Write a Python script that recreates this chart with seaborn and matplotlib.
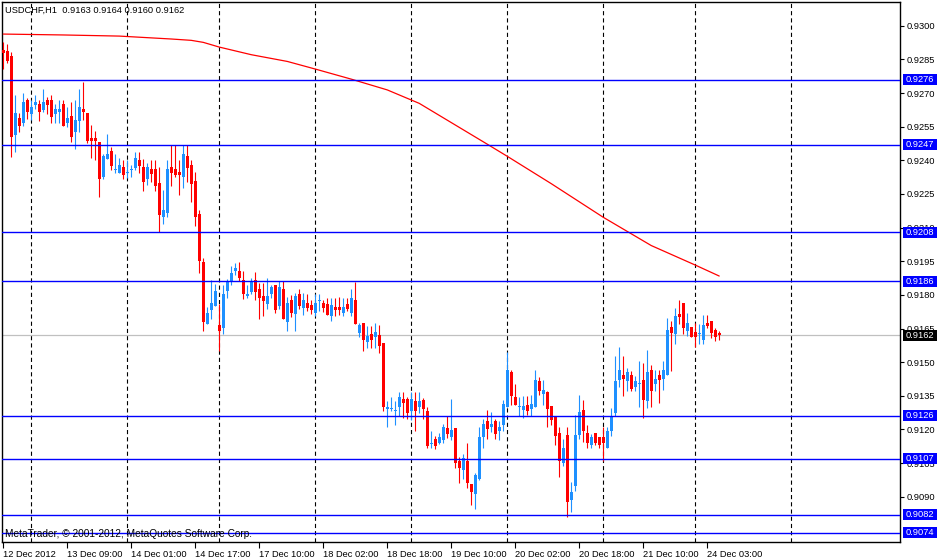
import numpy as np
import matplotlib
matplotlib.use("Agg")
import matplotlib.pyplot as plt
import matplotlib.transforms as mtransforms
from matplotlib.patches import Rectangle
import seaborn as sns

# ---------------- data ----------------
symbol_title = "USDCHF,H1  0.9163 0.9164 0.9160 0.9162"
watermark = "MetaTrader, \u00a9 2001-2012, MetaQuotes Software Corp."

opens = [
    0.92890, 0.92888, 0.92863, 0.92513, 0.92590, 0.92568, 0.92669, 0.92607, 0.92647, 0.92652,
    0.92625, 0.92669, 0.92669, 0.92607, 0.92616, 0.92652, 0.92568, 0.92598, 0.92528, 0.92574,
    0.92629, 0.92611, 0.92501, 0.92501, 0.92482, 0.92327, 0.92407, 0.92443, 0.92357, 0.92345,
    0.92371, 0.92344, 0.92356, 0.92366, 0.92401, 0.92371, 0.92317, 0.92360, 0.92360, 0.92299,
    0.92147, 0.92165, 0.92371, 0.92360, 0.92348, 0.92326, 0.92419, 0.92378, 0.92307, 0.92159,
    0.91948, 0.91672, 0.91733, 0.91751, 0.91666, 0.91654, 0.91818, 0.91863, 0.91905, 0.91908,
    0.91868, 0.91793, 0.91815, 0.91867, 0.91828, 0.91795, 0.91758, 0.91803, 0.91845, 0.91750,
    0.91825, 0.91679, 0.91777, 0.91713, 0.91806, 0.91743, 0.91764, 0.91755, 0.91721, 0.91774,
    0.91765, 0.91758, 0.91706, 0.91746, 0.91746, 0.91721, 0.91758, 0.91721, 0.91777, 0.91631,
    0.91673, 0.91590, 0.91626, 0.91613, 0.91623, 0.91586, 0.91291, 0.91290, 0.91282, 0.91298,
    0.91335, 0.91335, 0.91283, 0.91328, 0.91300, 0.91332, 0.91283, 0.91135, 0.91156, 0.91138,
    0.91153, 0.91205, 0.91168, 0.91205, 0.91059, 0.91019, 0.91061, 0.90955, 0.90910, 0.90981,
    0.91168, 0.91236, 0.91209, 0.91236, 0.91191, 0.91221, 0.91300, 0.91455, 0.91343, 0.91300,
    0.91288, 0.91310, 0.91292, 0.91300, 0.91415, 0.91360, 0.91367, 0.91303, 0.91254, 0.91183,
    0.91049, 0.91173, 0.90885, 0.90949, 0.91176, 0.91285, 0.91182, 0.91131, 0.91182, 0.91164,
    0.91164, 0.91119, 0.91195, 0.91273, 0.91422, 0.91444, 0.91418, 0.91444, 0.91388, 0.91402,
    0.91422, 0.91325, 0.91464, 0.91403, 0.91444, 0.91426, 0.91444, 0.91656, 0.91624, 0.91716,
    0.91762, 0.91638, 0.91658, 0.91636, 0.91626, 0.91598, 0.91676, 0.91683, 0.91643, 0.91630,
]
highs = [
    0.92926, 0.92920, 0.92881, 0.92692, 0.92610, 0.92702, 0.92678, 0.92669, 0.92692, 0.92669,
    0.92719, 0.92684, 0.92692, 0.92650, 0.92669, 0.92669, 0.92637, 0.92662, 0.92669, 0.92719,
    0.92751, 0.92611, 0.92558, 0.92531, 0.92482, 0.92428, 0.92517, 0.92461, 0.92428, 0.92412,
    0.92401, 0.92401, 0.92378, 0.92438, 0.92438, 0.92408, 0.92386, 0.92401, 0.92401, 0.92371,
    0.92266, 0.92401, 0.92469, 0.92469, 0.92401, 0.92469, 0.92469, 0.92401, 0.92348, 0.92177,
    0.91965, 0.91744, 0.91865, 0.91848, 0.91759, 0.91845, 0.91871, 0.91930, 0.91942, 0.91948,
    0.91907, 0.91845, 0.91874, 0.91900, 0.91852, 0.91855, 0.91877, 0.91845, 0.91845, 0.91860,
    0.91862, 0.91790, 0.91800, 0.91807, 0.91825, 0.91807, 0.91803, 0.91776, 0.91803, 0.91803,
    0.91777, 0.91785, 0.91788, 0.91785, 0.91790, 0.91788, 0.91788, 0.91825, 0.91858, 0.91676,
    0.91673, 0.91660, 0.91661, 0.91676, 0.91665, 0.91586, 0.91325, 0.91343, 0.91328, 0.91367,
    0.91367, 0.91344, 0.91365, 0.91365, 0.91365, 0.91340, 0.91302, 0.91195, 0.91171, 0.91183,
    0.91223, 0.91262, 0.91335, 0.91205, 0.91079, 0.91089, 0.91141, 0.90955, 0.91004, 0.91213,
    0.91248, 0.91285, 0.91276, 0.91248, 0.91236, 0.91333, 0.91546, 0.91463, 0.91404, 0.91343,
    0.91348, 0.91348, 0.91355, 0.91463, 0.91433, 0.91422, 0.91373, 0.91303, 0.91258, 0.91213,
    0.91158, 0.91213, 0.90964, 0.91263, 0.91352, 0.91333, 0.91221, 0.91179, 0.91182, 0.91164,
    0.91209, 0.91213, 0.91295, 0.91526, 0.91567, 0.91526, 0.91474, 0.91462, 0.91437, 0.91504,
    0.91497, 0.91552, 0.91486, 0.91467, 0.91467, 0.91507, 0.91695, 0.91683, 0.91740, 0.91776,
    0.91762, 0.91721, 0.91658, 0.91676, 0.91668, 0.91709, 0.91710, 0.91683, 0.91653, 0.91640,
]
lows = [
    0.92806, 0.92836, 0.92416, 0.92438, 0.92528, 0.92553, 0.92584, 0.92580, 0.92628, 0.92577,
    0.92616, 0.92607, 0.92568, 0.92568, 0.92565, 0.92553, 0.92547, 0.92483, 0.92449, 0.92528,
    0.92580, 0.92476, 0.92409, 0.92401, 0.92237, 0.92318, 0.92407, 0.92357, 0.92342, 0.92342,
    0.92318, 0.92319, 0.92326, 0.92356, 0.92344, 0.92262, 0.92292, 0.92302, 0.92262, 0.92080,
    0.92114, 0.92147, 0.92286, 0.92326, 0.92244, 0.92277, 0.92304, 0.92214, 0.92107, 0.91896,
    0.91639, 0.91669, 0.91694, 0.91751, 0.91550, 0.91624, 0.91786, 0.91845, 0.91890, 0.91863,
    0.91780, 0.91784, 0.91803, 0.91777, 0.91694, 0.91706, 0.91736, 0.91788, 0.91721, 0.91736,
    0.91694, 0.91638, 0.91703, 0.91638, 0.91736, 0.91710, 0.91728, 0.91713, 0.91706, 0.91728,
    0.91725, 0.91710, 0.91683, 0.91706, 0.91710, 0.91706, 0.91728, 0.91706, 0.91671, 0.91612,
    0.91550, 0.91565, 0.91564, 0.91564, 0.91541, 0.91283, 0.91210, 0.91280, 0.91220, 0.91258,
    0.91253, 0.91247, 0.91243, 0.91194, 0.91273, 0.91247, 0.91116, 0.91116, 0.91111, 0.91135,
    0.91138, 0.91161, 0.91153, 0.91030, 0.90959, 0.90981, 0.90940, 0.90862, 0.90847, 0.90974,
    0.91119, 0.91158, 0.91188, 0.91158, 0.91151, 0.91194, 0.91300, 0.91310, 0.91307, 0.91258,
    0.91251, 0.91263, 0.91258, 0.91300, 0.91355, 0.91310, 0.91213, 0.91221, 0.91131, 0.90990,
    0.91038, 0.90810, 0.90830, 0.90925, 0.91158, 0.91146, 0.91119, 0.91119, 0.91131, 0.91119,
    0.91059, 0.91116, 0.91170, 0.91262, 0.91388, 0.91347, 0.91370, 0.91370, 0.91370, 0.91298,
    0.91250, 0.91295, 0.91300, 0.91370, 0.91317, 0.91377, 0.91444, 0.91462, 0.91582, 0.91671,
    0.91627, 0.91616, 0.91612, 0.91567, 0.91579, 0.91582, 0.91653, 0.91609, 0.91594, 0.91600,
]
closes = [
    0.92878, 0.92845, 0.92505, 0.92613, 0.92553, 0.92662, 0.92617, 0.92637, 0.92662, 0.92617,
    0.92660, 0.92647, 0.92595, 0.92631, 0.92631, 0.92553, 0.92589, 0.92505, 0.92580, 0.92637,
    0.92616, 0.92488, 0.92488, 0.92488, 0.92318, 0.92419, 0.92428, 0.92376, 0.92361, 0.92379,
    0.92335, 0.92348, 0.92359, 0.92410, 0.92374, 0.92304, 0.92371, 0.92341, 0.92286, 0.92154,
    0.92177, 0.92360, 0.92344, 0.92333, 0.92333, 0.92428, 0.92366, 0.92296, 0.92147, 0.91953,
    0.91680, 0.91721, 0.91763, 0.91817, 0.91639, 0.91806, 0.91859, 0.91899, 0.91918, 0.91874,
    0.91802, 0.91805, 0.91858, 0.91815, 0.91785, 0.91773, 0.91795, 0.91836, 0.91733, 0.91836,
    0.91694, 0.91762, 0.91718, 0.91795, 0.91750, 0.91777, 0.91743, 0.91733, 0.91765, 0.91776,
    0.91743, 0.91710, 0.91755, 0.91733, 0.91733, 0.91746, 0.91735, 0.91788, 0.91671, 0.91664,
    0.91598, 0.91616, 0.91598, 0.91635, 0.91571, 0.91298, 0.91302, 0.91292, 0.91284, 0.91343,
    0.91320, 0.91273, 0.91335, 0.91283, 0.91325, 0.91291, 0.91128, 0.91141, 0.91128, 0.91164,
    0.91213, 0.91179, 0.91198, 0.91049, 0.91029, 0.91074, 0.90959, 0.90919, 0.90996, 0.91164,
    0.91224, 0.91201, 0.91224, 0.91179, 0.91213, 0.91313, 0.91464, 0.91348, 0.91307, 0.91303,
    0.91303, 0.91280, 0.91313, 0.91422, 0.91370, 0.91375, 0.91291, 0.91243, 0.91171, 0.91057,
    0.91116, 0.90877, 0.90922, 0.91173, 0.91276, 0.91191, 0.91139, 0.91164, 0.91139, 0.91131,
    0.91139, 0.91194, 0.91262, 0.91415, 0.91464, 0.91426, 0.91455, 0.91380, 0.91415, 0.91404,
    0.91332, 0.91455, 0.91370, 0.91425, 0.91419, 0.91464, 0.91643, 0.91631, 0.91706, 0.91703,
    0.91653, 0.91676, 0.91613, 0.91612, 0.91629, 0.91665, 0.91661, 0.91631, 0.91612, 0.91620,
]

# moving average read at selected bars (bar index, price)
ma_bar = [0, 15, 29, 42, 47, 50, 54, 62, 71, 78, 87, 96, 104, 121, 126, 137, 150, 162, 173, 179]
ma_price = [0.92963, 0.92959, 0.92954, 0.92941, 0.92935, 0.92926, 0.92905, 0.92871, 0.92841,
            0.92807, 0.92762, 0.92714, 0.92654, 0.92472, 0.92418, 0.92296, 0.92146, 0.92020,
            0.91933, 0.91884]

level_prices = [0.9276, 0.9247, 0.9208, 0.9186, 0.9126, 0.9107, 0.9082, 0.9074]
current_price = 0.9162

separator_bars = [7, 31, 54, 78, 102, 126, 150, 173, 197]
time_tick_bars = [0, 16, 32, 48, 64, 80, 96, 112, 128, 144, 160, 176]
time_labels = ["12 Dec 2012", "13 Dec 09:00", "14 Dec 01:00", "14 Dec 17:00", "17 Dec 10:00",
               "18 Dec 02:00", "18 Dec 18:00", "19 Dec 10:00", "20 Dec 02:00", "20 Dec 18:00",
               "21 Dec 10:00", "24 Dec 03:00"]
price_ticks = [0.9090, 0.9105, 0.9120, 0.9135, 0.9150, 0.9165, 0.9180, 0.9195,
               0.9210, 0.9225, 0.9240, 0.9255, 0.9270, 0.9285, 0.9300]

# ---------------- style ----------------
sns.set_style("white")
plt.rcParams["font.family"] = ["Liberation Sans", "DejaVu Sans"]
plt.rcParams["lines.scale_dashes"] = False

UP = "#1E90FF"
DOWN = "#FF0000"
LEVEL = "#0000FF"

W, H = 938, 559
fig = plt.figure(figsize=(W / 100, H / 100), dpi=100)
fig.patch.set_facecolor("white")
ax_l, ax_r, ax_t, ax_b = 2, 900, 2, 542
ax = fig.add_axes([ax_l / W, 1 - ax_b / H, (ax_r - ax_l) / W, (ax_b - ax_t) / H])
ax.set_facecolor("white")

o = np.array(opens); h = np.array(highs); l = np.array(lows); c = np.array(closes)
xb = np.arange(len(o))
up = c >= o
cols = np.where(up, UP, DOWN)

# period separators
for b in separator_bars:
    ax.axvline(b, color="black", lw=0.8, linestyle=(0, (3.0, 2.2)), zorder=1)

# wicks
ax.vlines(xb, l, h, colors=cols, linewidth=0.8, zorder=3)
# bodies
body_low = np.minimum(o, c)
body_h = np.maximum(np.abs(c - o), 0.00004)
ax.bar(xb, body_h, bottom=body_low, width=0.75, color=cols, linewidth=0, zorder=4)

# moving average
sns.lineplot(x=ma_bar, y=ma_price, ax=ax, color="red", linewidth=0.9, legend=False, zorder=5)

# horizontal levels
for p in level_prices:
    ax.axhline(p, color=LEVEL, lw=1.0, zorder=6)
ax.axhline(current_price, color="#C0C0C0", lw=0.9, zorder=2)

ax.set_xlim(-0.325, 224.2)
ax.set_ylim(0.90698, 0.93106)

# axes styling
for s in ax.spines.values():
    s.set_color("black")
    s.set_linewidth(1.0)

ax.yaxis.tick_right()
ax.set_yticks(price_ticks)
ax.set_yticklabels([f"{p:.4f}" for p in price_ticks])
ax.tick_params(axis="y", which="both", right=True, left=False, direction="out",
               length=3, width=0.8, pad=2, labelsize=6.7, colors="black")
ax.set_xticks(time_tick_bars)
ax.set_xticklabels(time_labels)
for lab in ax.get_xticklabels():
    lab.set_horizontalalignment("left")
ax.tick_params(axis="x", which="both", bottom=True, top=False, direction="out",
               length=4, width=0.8, pad=2, labelsize=6.7, colors="black")
ax.set_xlabel("")
ax.set_ylabel("")
ax.grid(False)

# price boxes on the right
trans = mtransforms.blended_transform_factory(ax.transAxes, ax.transData)
span = ax_r - ax_l
pip_per_px = (0.93106 - 0.90698) / (ax_b - ax_t)
half_h = 5.5 * pip_per_px
for p, fc in [(pp, LEVEL) for pp in level_prices] + [(current_price, "black")]:
    rect = Rectangle(((903 - ax_l) / span, p - half_h), 34 / span, 2 * half_h,
                     transform=trans, facecolor=fc, edgecolor="none",
                     clip_on=False, zorder=10)
    ax.add_patch(rect)
    ax.text((905.5 - ax_l) / span, p, f"{p:.4f}", transform=trans, color="white",
            fontsize=6.7, va="center", ha="left", clip_on=False, zorder=11)

# title and watermark
fig.text(5 / W, 1 - 10 / H, symbol_title, fontsize=6.7, va="center", ha="left", color="black")
fig.text(5 / W, 1 - 534 / H, watermark, fontsize=7.3, va="center", ha="left", color="black")

fig.savefig("out.png", dpi=100, facecolor="white")
